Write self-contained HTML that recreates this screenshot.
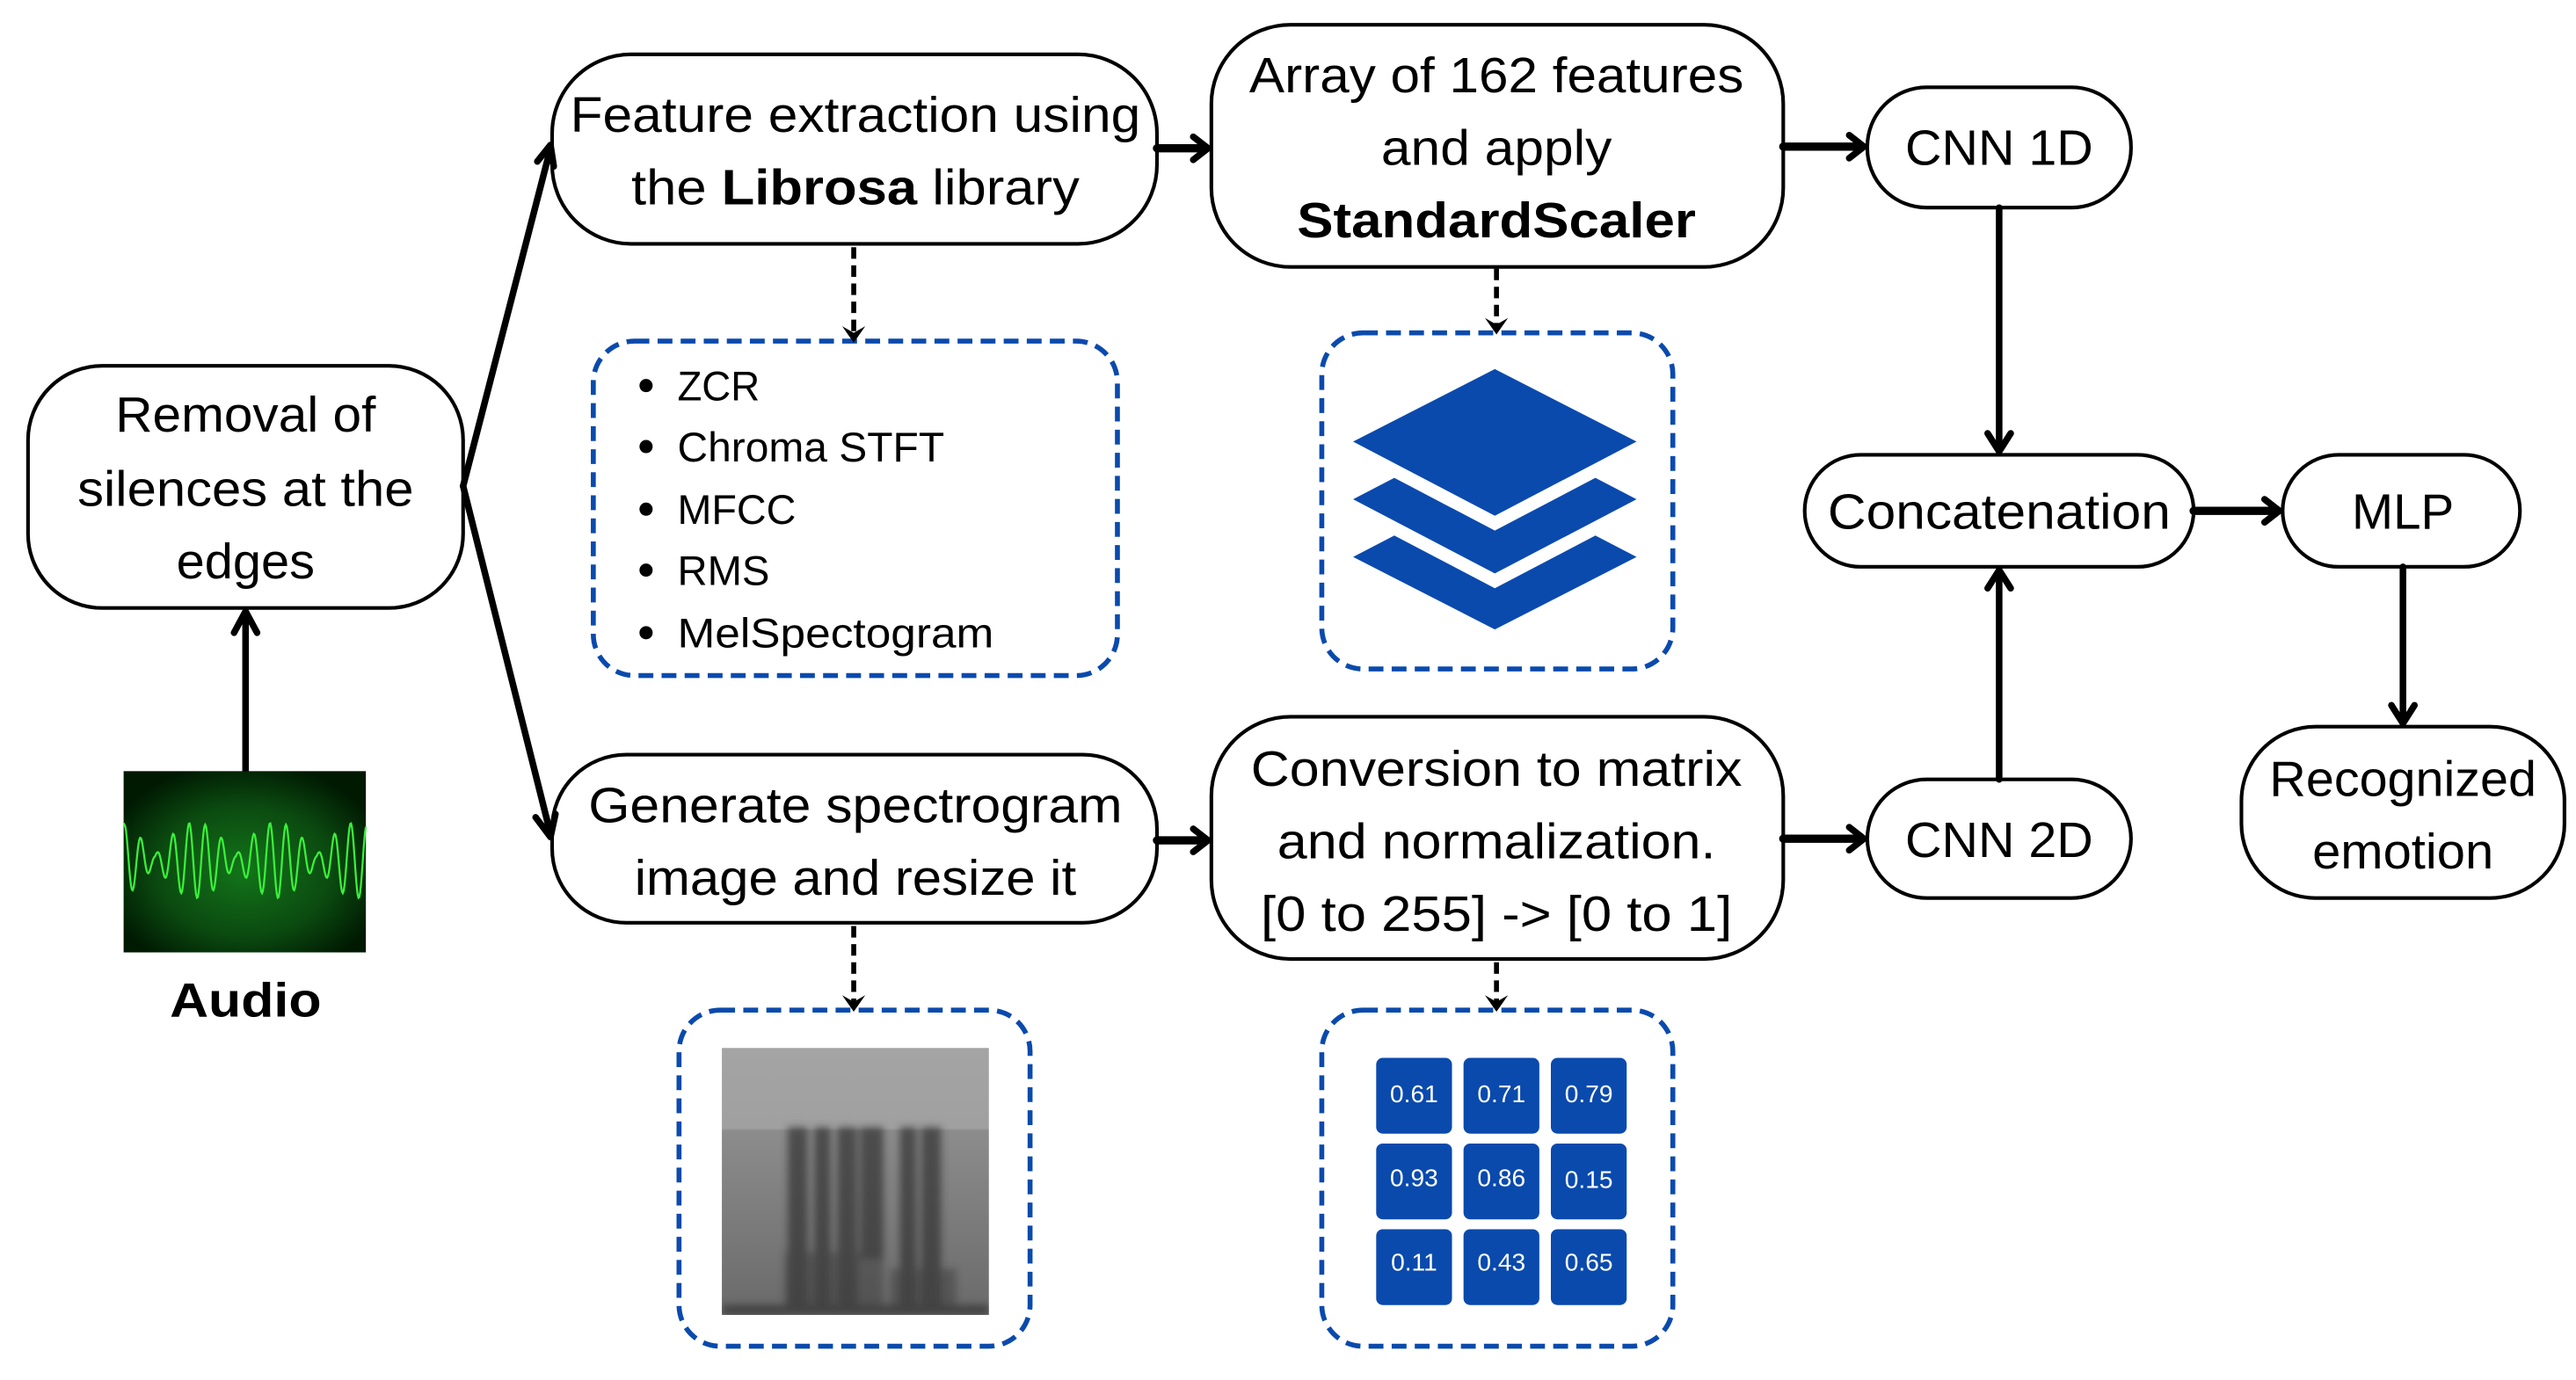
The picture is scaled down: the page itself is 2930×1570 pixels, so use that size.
<!DOCTYPE html>
<html><head><meta charset="utf-8"><style>
html,body{margin:0;padding:0;background:#fff}
svg{display:block}
text{font-family:"Liberation Sans",sans-serif;fill:#000}
</style></head><body>
<svg width="2930" height="1570" viewBox="0 0 1563 837.5" xmlns="http://www.w3.org/2000/svg">
<defs>
<radialGradient id="gg" cx="50%" cy="55%" r="60%">
<stop offset="0" stop-color="#13751a"/><stop offset="0.6" stop-color="#0b4a10"/><stop offset="1" stop-color="#001a02"/>
</radialGradient>
<linearGradient id="sg" x1="0" y1="0" x2="0" y2="1">
<stop offset="0" stop-color="#a4a4a4"/><stop offset="0.3" stop-color="#a0a0a0"/><stop offset="0.31" stop-color="#8c8c8c"/><stop offset="1" stop-color="#6a6a6a"/>
</linearGradient>
<filter id="bl"><feGaussianBlur stdDeviation="2.2"/></filter>
<clipPath id="sc"><rect x="438" y="636" width="162" height="162"/></clipPath>
</defs>
<g fill="#fff" stroke="#000" stroke-width="2.2">
<rect x="17" y="222" width="264" height="147" rx="45"/>
<rect x="335" y="33" width="367" height="115" rx="48"/>
<rect x="735" y="15" width="347" height="147" rx="48"/>
<rect x="1133" y="53" width="160" height="73" rx="36"/>
<rect x="1095" y="276" width="236" height="68" rx="34"/>
<rect x="1385" y="276" width="144" height="68" rx="34"/>
<rect x="1133" y="473" width="160" height="72" rx="36"/>
<rect x="1360" y="441" width="196" height="104" rx="45"/>
<rect x="335" y="458" width="367" height="102" rx="45"/>
<rect x="735" y="435" width="347" height="147" rx="48"/>
</g>
<g fill="none" stroke="#0a4aad" stroke-width="3" stroke-dasharray="9,5">
<rect x="360" y="207" width="318" height="203" rx="25"/>
<rect x="802" y="202" width="213" height="204" rx="25"/>
<rect x="412" y="613" width="213" height="204" rx="25"/>
<rect x="802" y="613" width="213" height="204" rx="25"/>
</g>
<g stroke="#000" stroke-width="4" fill="none" stroke-linecap="round" stroke-linejoin="round">
<line x1="149" y1="468" x2="149" y2="372"/><polyline points="142,384 149,371 156,384"/>
<line x1="281" y1="295" x2="334" y2="90"/><polyline points="326,98 334,88 336,101"/>
<line x1="281" y1="295" x2="334" y2="506"/><polyline points="325,496 334,508 337,494"/>
<line x1="702" y1="90" x2="732" y2="90" stroke-width="5"/><polyline points="724,83 733,90 724,97"/>
<line x1="702" y1="510" x2="732" y2="510" stroke-width="5"/><polyline points="724,503 733,510 724,517"/>
<line x1="1082" y1="89" x2="1130" y2="89" stroke-width="5"/><polyline points="1122,82 1131,89 1122,96"/>
<line x1="1082" y1="509" x2="1130" y2="509" stroke-width="5"/><polyline points="1122,502 1131,509 1122,516"/>
<line x1="1331" y1="310" x2="1382" y2="310" stroke-width="5"/><polyline points="1374,303 1383,310 1374,317"/>
<line x1="1213" y1="126" x2="1213" y2="273"/><polyline points="1206,263 1213,274 1220,263"/>
<line x1="1213" y1="473" x2="1213" y2="347"/><polyline points="1206,357 1213,346 1220,357"/>
<line x1="1458" y1="344" x2="1458" y2="438"/><polyline points="1451,428 1458,439 1465,428"/>
</g>
<g stroke="#000" stroke-width="3" fill="none">
<line x1="518" y1="150" x2="518" y2="203" stroke-dasharray="7,4"/>
<line x1="908" y1="163" x2="908" y2="198" stroke-dasharray="7,4"/>
<line x1="518" y1="562" x2="518" y2="609" stroke-dasharray="7,4"/>
<line x1="908" y1="584" x2="908" y2="609" stroke-dasharray="7,4"/>
</g>
<g fill="#000">
<polygon points="511,198 518,208 525,198 518,202"/>
<polygon points="901,193 908,203 915,193 908,197"/>
<polygon points="511,604 518,614 525,604 518,608"/>
<polygon points="901,604 908,614 915,604 908,608"/>
</g>
<g font-size="30" text-anchor="middle">
<text x="149" y="262" textLength="158" lengthAdjust="spacingAndGlyphs">Removal of</text>
<text x="149" y="307" textLength="204" lengthAdjust="spacingAndGlyphs">silences at the</text>
<text x="149" y="351" textLength="84" lengthAdjust="spacingAndGlyphs">edges</text>
<text x="519" y="80" textLength="346" lengthAdjust="spacingAndGlyphs">Feature extraction using</text>
<text x="519" y="124" textLength="272" lengthAdjust="spacingAndGlyphs">the <tspan font-weight="bold">Librosa</tspan> library</text>
<text x="908" y="56" textLength="300" lengthAdjust="spacingAndGlyphs">Array of 162 features</text>
<text x="908" y="100" textLength="140" lengthAdjust="spacingAndGlyphs">and apply</text>
<text x="908" y="144" font-weight="bold" textLength="242" lengthAdjust="spacingAndGlyphs">StandardScaler</text>
<text x="1213" y="100" textLength="114" lengthAdjust="spacingAndGlyphs">CNN 1D</text>
<text x="1213" y="321" textLength="208" lengthAdjust="spacingAndGlyphs">Concatenation</text>
<text x="1458" y="321" textLength="62" lengthAdjust="spacingAndGlyphs">MLP</text>
<text x="1213" y="520" textLength="114" lengthAdjust="spacingAndGlyphs">CNN 2D</text>
<text x="1458" y="483" textLength="162" lengthAdjust="spacingAndGlyphs">Recognized</text>
<text x="1458" y="527" textLength="110" lengthAdjust="spacingAndGlyphs">emotion</text>
<text x="519" y="499" textLength="324" lengthAdjust="spacingAndGlyphs">Generate spectrogram</text>
<text x="519" y="543" textLength="268" lengthAdjust="spacingAndGlyphs">image and resize it</text>
<text x="908" y="477" textLength="298" lengthAdjust="spacingAndGlyphs">Conversion to matrix</text>
<text x="908" y="521" textLength="266" lengthAdjust="spacingAndGlyphs">and normalization.</text>
<text x="908" y="565" textLength="286" lengthAdjust="spacingAndGlyphs">[0 to 255] -&gt; [0 to 1]</text>
<text x="149" y="617" font-weight="bold" font-size="29" textLength="92" lengthAdjust="spacingAndGlyphs">Audio</text>
</g>
<g font-size="25">
<circle cx="392" cy="234" r="4"/><text x="411" y="243" textLength="50" lengthAdjust="spacingAndGlyphs">ZCR</text>
<circle cx="392" cy="271" r="4"/><text x="411" y="280" textLength="162" lengthAdjust="spacingAndGlyphs">Chroma STFT</text>
<circle cx="392" cy="309" r="4"/><text x="411" y="318" textLength="72" lengthAdjust="spacingAndGlyphs">MFCC</text>
<circle cx="392" cy="346" r="4"/><text x="411" y="355" textLength="56" lengthAdjust="spacingAndGlyphs">RMS</text>
<circle cx="392" cy="384" r="4"/><text x="411" y="393" textLength="192" lengthAdjust="spacingAndGlyphs">MelSpectogram</text>
</g>
<g fill="#0a4aad">
<polygon points="907,224 993,268 907,313 821,268"/>
<polygon points="821,303 846,290 907,322 968,290 993,303 907,348"/>
<polygon points="821,338 846,325 907,357 968,325 993,338 907,382"/>
</g>
<g fill="#0a4aad">
<rect x="835" y="642" width="46" height="46" rx="4"/><rect x="888" y="642" width="46" height="46" rx="4"/><rect x="941" y="642" width="46" height="46" rx="4"/>
<rect x="835" y="694" width="46" height="46" rx="4"/><rect x="888" y="694" width="46" height="46" rx="4"/><rect x="941" y="694" width="46" height="46" rx="4"/>
<rect x="835" y="746" width="46" height="46" rx="4"/><rect x="888" y="746" width="46" height="46" rx="4"/><rect x="941" y="746" width="46" height="46" rx="4"/>
</g>
<g font-size="15" text-anchor="middle">
<text x="858" y="669" style="fill:#fff">0.61</text><text x="911" y="669" style="fill:#fff">0.71</text><text x="964" y="669" style="fill:#fff">0.79</text>
<text x="858" y="720" style="fill:#fff">0.93</text><text x="911" y="720" style="fill:#fff">0.86</text><text x="964" y="721" style="fill:#fff">0.15</text>
<text x="858" y="771" style="fill:#fff">0.11</text><text x="911" y="771" style="fill:#fff">0.43</text><text x="964" y="771" style="fill:#fff">0.65</text>
</g>
<rect x="438" y="636" width="162" height="162" fill="url(#sg)"/>
<g clip-path="url(#sc)" filter="url(#bl)" fill="#303030" opacity="0.7">
<rect x="478" y="684" width="12" height="114"/><rect x="494" y="684" width="10" height="114"/>
<rect x="508" y="684" width="12" height="114"/><rect x="522" y="684" width="14" height="80"/>
<rect x="546" y="684" width="10" height="114"/><rect x="559" y="684" width="12" height="114"/>
<rect x="476" y="760" width="60" height="38" opacity="0.6"/>
<rect x="540" y="770" width="40" height="28" opacity="0.6"/>
<rect x="438" y="792" width="162" height="6"/>
</g>
<rect x="75" y="468" width="147" height="110" fill="url(#gg)"/>
<path id="wave" d="" fill="none" stroke="#3bf03b" stroke-width="1.2"/>
</svg>
<script>
var d="";for(var x=75;x<=222;x+=0.5){var t=x-75;var env=Math.abs(Math.cos(t/49*Math.PI+0.35));var y=522+(-3-20*env)*Math.sin(t/9.8*2*Math.PI+1.2);d+=(d?"L":"M")+x+","+y.toFixed(2);}
document.getElementById("wave").setAttribute("d",d);
</script>
</body></html>
